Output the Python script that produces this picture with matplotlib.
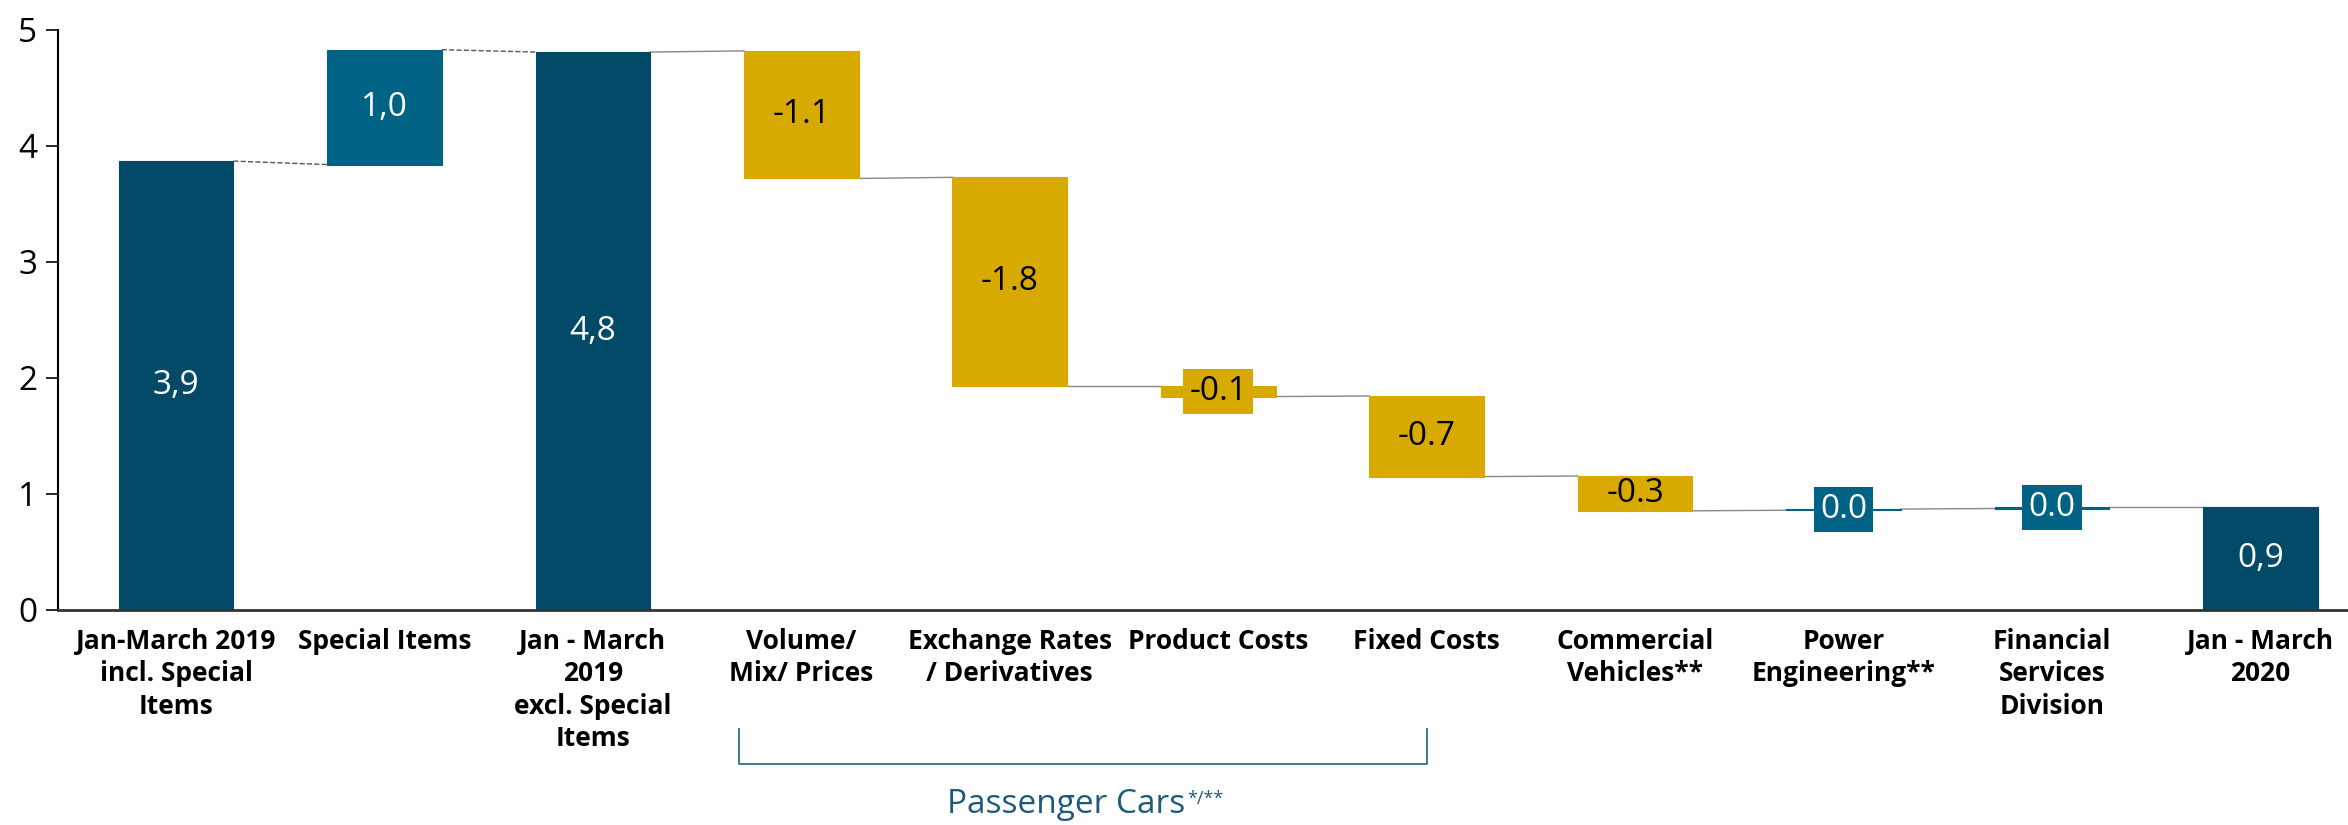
import matplotlib.pyplot as plt

plt.rcParams['font.family'] = ['Open Sans', 'DejaVu Sans']

# data (EUR bn)
categories = [
    "Jan-March 2019\nincl. Special\nItems",
    "Special Items",
    "Jan - March\n2019\nexcl. Special\nItems",
    "Volume/\nMix/ Prices",
    "Exchange Rates\n/ Derivatives",
    "Product Costs",
    "Fixed Costs",
    "Commercial\nVehicles**",
    "Power\nEngineering**",
    "Financial\nServices\nDivision",
    "Jan - March\n2020",
]
starts = [0.0, 3.84, 0.0, 4.82, 3.73, 1.93, 1.845, 1.155, 0.86, 0.875, 0.0]
ends = [3.87, 4.83, 4.81, 3.72, 1.93, 1.84, 1.15, 0.855, 0.87, 0.885, 0.885]
labels = ["3,9", "1,0", "4,8", "-1.1", "-1.8", "-0.1", "-0.7", "-0.3", "0.0", "0.0", "0,9"]
kinds = ["total", "up", "total", "down", "down", "down", "down", "down", "up", "up", "total"]

NAVY = "#034a69"
TEAL = "#006385"
GOLD = "#d8aa00"
colors = {"total": NAVY, "up": TEAL, "down": GOLD}

fig = plt.figure(figsize=(23.48, 8.25), dpi=100)
ax = fig.add_axes([58 / 2348, 215 / 825, 1 - 58 / 2348, 580 / 825])

width = 0.55
x = list(range(len(categories)))
for i in x:
    lo, hi = min(starts[i], ends[i]), max(starts[i], ends[i])
    c = colors[kinds[i]]
    ax.bar(i, hi - lo, bottom=lo, width=width, color=c, edgecolor=c, linewidth=0.8, zorder=2)

    tc = "black" if kinds[i] == "down" else "white"
    mid = (lo + hi) / 2
    if hi - lo < 0.2:
        # small steps get a boxed label
        ax.text(i, mid, labels[i], ha="center", va="center", fontsize=24, color=tc, zorder=4,
                bbox=dict(boxstyle="square,pad=0.18", fc=c, ec="none"))
    else:
        ax.text(i, mid, labels[i], ha="center", va="center", fontsize=24, color=tc, zorder=4)

# connectors between bars: end of one bar to where the next one begins
for i in x[:-1]:
    nxt = ends[i + 1] if kinds[i + 1] == "total" else starts[i + 1]
    ls = "--" if i < 2 else "-"
    col = "#555555" if i < 2 else "#888888"
    ax.plot([i + width / 2, i + 1 - width / 2], [ends[i], nxt], ls=ls, color=col, lw=1.0, zorder=1)

ax.set_xlim(-0.566, 10.42)
ax.set_ylim(0, 5)
ax.set_yticks(range(6))
ax.tick_params(axis="y", labelsize=24, length=9, width=1.2, pad=6)
ax.set_xticks(x)
ax.set_xticklabels(categories, fontsize=19, fontweight="bold", linespacing=1.25)
ax.tick_params(axis="x", length=0, pad=13)
for s in ["top", "right"]:
    ax.spines[s].set_visible(False)
ax.spines["left"].set_linewidth(1.5)
ax.spines["bottom"].set_linewidth(2)
ax.spines["bottom"].set_color("#333333")

# Passenger Cars bracket
trans = ax.get_xaxis_transform()
br_col = "#2f6e8e"
ax.plot([2.7, 2.7, 6.0, 6.0], [-0.205, -0.265, -0.265, -0.205], transform=trans,
        color=br_col, lw=1.3, clip_on=False)
pc = ax.text(4.27, -0.335, "Passenger Cars", transform=trans, ha="center", va="center",
             fontsize=24, color="#1d5a7a")
fig.canvas.draw()
bb = pc.get_window_extent()
fig.text(bb.x1 / fig.bbox.width + 0.001, (bb.y1 - 11) / fig.bbox.height, "*/**",
         fontsize=13, color="#1d5a7a", ha="left", va="center")

fig.savefig("out.png", dpi=100)
